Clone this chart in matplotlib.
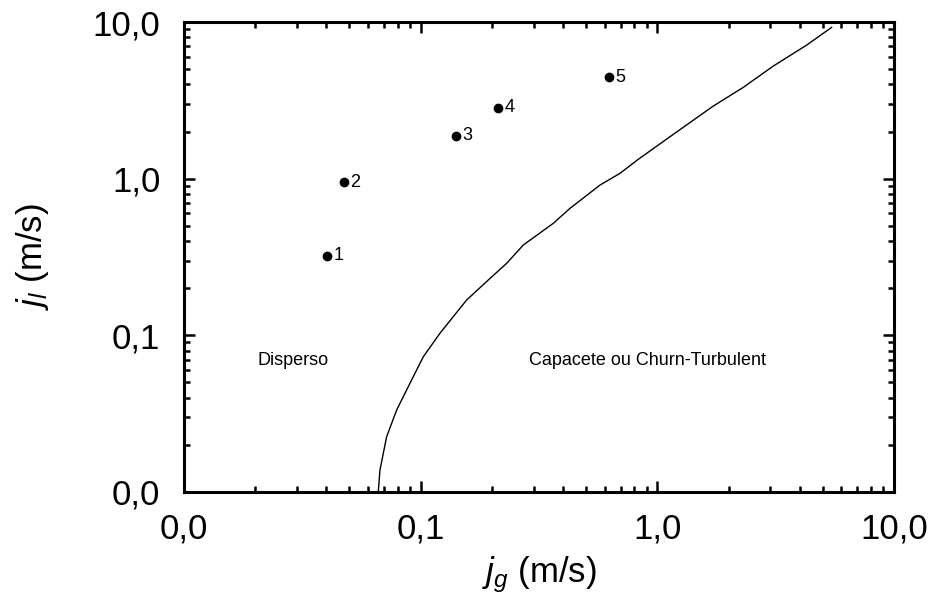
import matplotlib
matplotlib.use("Agg")
import matplotlib.pyplot as plt
from matplotlib.ticker import FuncFormatter, LogLocator, NullFormatter

plt.rcParams['font.family'] = ['Liberation Sans', 'DejaVu Sans']
plt.rcParams['mathtext.fontset'] = 'custom'
plt.rcParams['mathtext.rm'] = 'Liberation Sans'
plt.rcParams['mathtext.it'] = 'Liberation Sans:italic'

# experimental points
point_jg = [0.0403, 0.0474, 0.141, 0.213, 0.625]
point_jl = [0.321, 0.946, 1.88, 2.84, 4.43]
point_labels = ["1", "2", "3", "4", "5"]

# transition boundary
curve_jg = [0.0662, 0.0673, 0.0718, 0.0792, 0.0901, 0.1026, 0.1206, 0.1373,
            0.1564, 0.193, 0.2308, 0.2714, 0.3633, 0.4273, 0.5723, 0.695,
            0.8304, 1.13, 1.723, 2.307, 3.088, 4.274, 5.45]
curve_jl = [0.01, 0.0138, 0.0225, 0.0334, 0.0494, 0.073, 0.103, 0.1315,
            0.168, 0.2254, 0.288, 0.377, 0.5185, 0.646, 0.91, 1.081,
            1.328, 1.851, 2.906, 3.825, 5.23, 7.12, 9.24]


def comma_fmt(v, pos):
    return f"{v:.1f}".replace('.', ',')


def main():
    fig = plt.figure(figsize=(9.33, 6.13), dpi=100)
    ax = fig.add_axes([0.1972, 0.1974, 0.761, 0.7667])

    ax.plot(curve_jg, curve_jl, color='black', linewidth=1.0)
    ax.plot(point_jg, point_jl, 'o', color='black', markersize=6)
    for x, y, lab in zip(point_jg, point_jl, point_labels):
        ax.annotate(lab, (x, y), xytext=(4.5, 0), textcoords='offset points',
                    va='center', ha='left', fontsize=13)

    ax.text(0.0289, 0.0695, "Disperso", fontsize=13, ha='center', va='center')
    ax.text(0.912, 0.0695, "Capacete ou Churn-Turbulent", fontsize=13,
            ha='center', va='center')

    ax.set_xscale('log')
    ax.set_yscale('log')
    ax.set_xlim(0.01, 10)
    ax.set_ylim(0.01, 10)

    for axis in (ax.xaxis, ax.yaxis):
        axis.set_major_locator(LogLocator(base=10, numticks=10))
        axis.set_minor_locator(LogLocator(base=10, subs=range(2, 10), numticks=20))
        axis.set_major_formatter(FuncFormatter(comma_fmt))
        axis.set_minor_formatter(NullFormatter())

    ax.tick_params(which='both', direction='in', top=True, right=True,
                   labelsize=25, width=1.8, color='black')
    ax.tick_params(which='major', length=8)
    ax.tick_params(which='minor', length=4)
    ax.tick_params(axis='y', which='major', pad=17)
    ax.tick_params(axis='x', which='major', pad=15)
    for s in ax.spines.values():
        s.set_linewidth(2.2)

    ax.set_xlabel(r"$j_g$ (m/s)", fontsize=25, labelpad=6)
    ax.set_ylabel(r"$j_l$ (m/s)", fontsize=25, labelpad=30)

    fig.savefig("out.png", dpi=100)


if __name__ == "__main__":
    main()
